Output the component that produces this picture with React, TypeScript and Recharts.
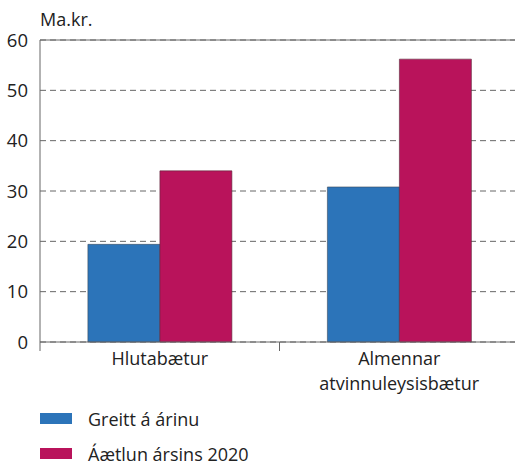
import React from "react";
import {
  BarChart,
  Bar,
  XAxis,
  YAxis,
  CartesianGrid,
  ReferenceLine,
} from "recharts";

const categories = ["Hlutabætur", "Almennar atvinnuleysisbætur"];
const greitt = [19.4, 30.8];
const aaetlun = [34.0, 56.2];
const yTicks = [0, 10, 20, 30, 40, 50, 60];
const seriesNames = ["Greitt á árinu", "Áætlun ársins 2020"];

const BLUE = "#2c74b9";
const MAGENTA = "#b9135b";
const FONT = "'Open Sans', sans-serif";

const data = categories.map((name, i) => ({
  name,
  greitt: greitt[i],
  aaetlun: aaetlun[i],
}));

// flokksheiti, brotið í línur, og strik á milli flokka
const CategoryTick = (props: any) => {
  const { x, y, payload } = props;
  const lines: string[] = String(payload.value).split(" ");
  const half = payload.offset || 0;
  return (
    <g>
      <line x1={x - half} x2={x - half} y1={y - 8} y2={y + 1} stroke="#666" strokeWidth={1} />
      {lines.map((line, i) => (
        <text
          key={i}
          x={x}
          y={y + 15 + i * 25}
          textAnchor="middle"
          fontSize={18}
          fontFamily={FONT}
          fill="#222"
        >
          {line}
        </text>
      ))}
    </g>
  );
};

const LegendBox = () => (
  <div
    style={{
      position: "absolute",
      left: 40,
      top: 401,
      fontFamily: FONT,
      fontSize: 18,
      color: "#222",
    }}
  >
    {seriesNames.map((name, i) => (
      <div key={name} style={{ display: "flex", alignItems: "center", height: 35 }}>
        <span
          style={{
            display: "inline-block",
            width: 32,
            height: 11,
            background: i === 0 ? BLUE : MAGENTA,
            marginRight: 16,
          }}
        />
        {name}
      </div>
    ))}
  </div>
);

const App: React.FC = (): JSX.Element => {
  return (
    <div style={{ position: "absolute", left: 0, top: 0, width: 515, height: 466, overflow: "hidden" }}>
      <div
        style={{
          position: "absolute",
          left: 40,
          top: 7,
          fontFamily: FONT,
          fontSize: 18,
          color: "#222",
        }}
      >
        Ma.kr.
      </div>
      <BarChart
        width={515}
        height={466}
        data={data}
        margin={{ top: 40, right: -4, left: 0, bottom: 0 }}
        barGap={0}
        barCategoryGap="20%"
      >
        <CartesianGrid vertical={false} stroke="#666" strokeDasharray="6 4" />
        <XAxis
          dataKey="name"
          height={124}
          axisLine={{ stroke: "#666" }}
          tickLine={false}
          tick={<CategoryTick />}
          interval={0}
        />
        <YAxis
          width={40}
          domain={[0, 60]}
          ticks={yTicks}
          axisLine={{ stroke: "#666" }}
          tickLine={false}
          tick={{ fontSize: 18.5, fontFamily: FONT, fill: "#222" }}
          tickMargin={6}
        />
        <ReferenceLine y={60} stroke="#666" />
        <Bar dataKey="greitt" fill={BLUE} stroke="#3a4a5a" strokeWidth={0.6} isAnimationActive={false} />
        <Bar dataKey="aaetlun" fill={MAGENTA} stroke="#5a2a3a" strokeWidth={0.6} isAnimationActive={false} />
      </BarChart>
      <LegendBox />
    </div>
  );
};

export default App;
